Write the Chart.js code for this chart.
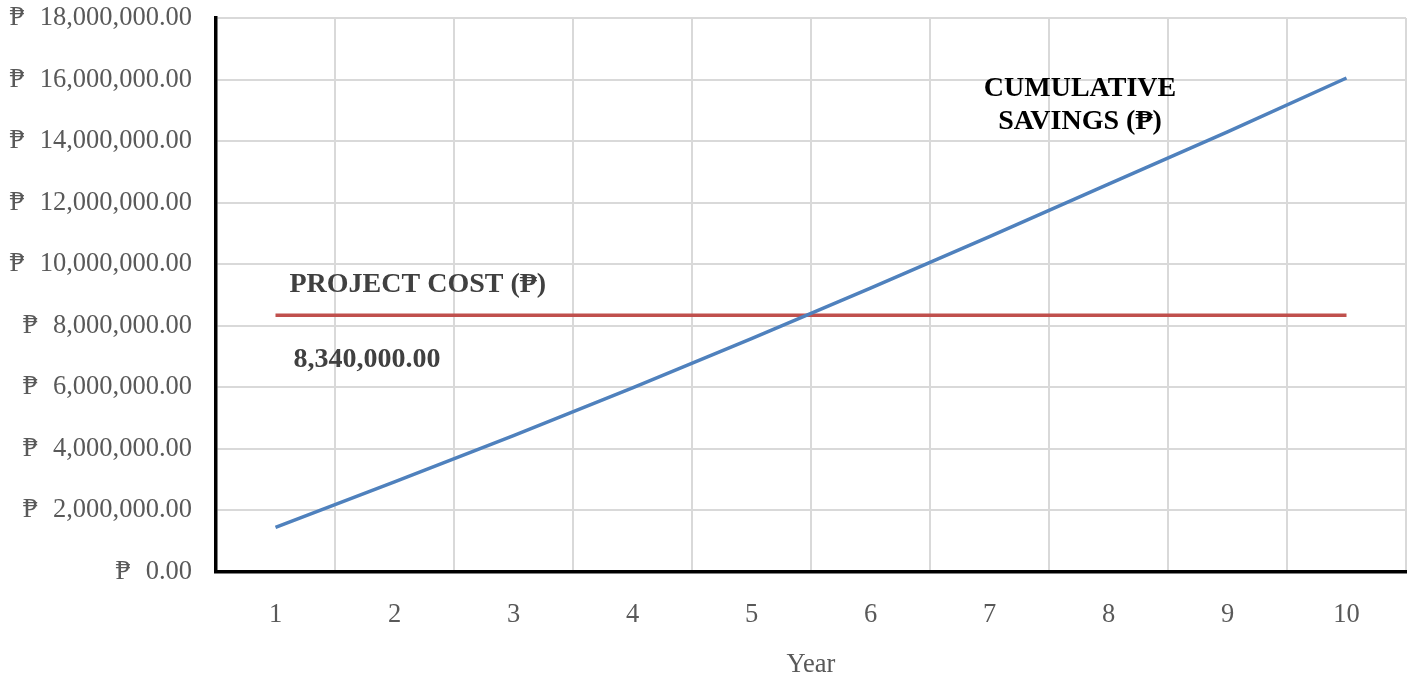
<!DOCTYPE html>
<html>
<head>
<meta charset="utf-8">
<script src="https://cdn.jsdelivr.net/npm/chart.js@4"></script>
<style>
  html, body { margin: 0; padding: 0; background: #fff; }
  #wrap { width: 1415px; height: 679px; position: relative; }
</style>
</head>
<body>
<div id="wrap"><canvas id="c" width="1415" height="679"></canvas></div>
<script>
const years = ['1', '2', '3', '4', '5', '6', '7', '8', '9', '10'];
const cumulativeSavings = [1450000, 2930000, 4430000, 5980000, 7580000, 9220000, 10900000, 12600000, 14300000, 16050000];
const projectCost = [8340000, 8340000, 8340000, 8340000, 8340000, 8340000, 8340000, 8340000, 8340000, 8340000];
const yTicks = [0, 2000000, 4000000, 6000000, 8000000, 10000000, 12000000, 14000000, 16000000, 18000000];
const costLabel = 'PROJECT COST (₱)';
const costValueLabel = '8,340,000.00';
const savingsLabel = ['CUMULATIVE', 'SAVINGS (₱)'];
const xTitle = 'Year';

const SERIF = '"Liberation Serif", "Times New Roman", "DejaVu Serif", serif';

function fmtPeso(v) {
  return '₱\u2002\u200A' + v.toLocaleString('en-US', { minimumFractionDigits: 2, maximumFractionDigits: 2 });
}

const labelPlugin = {
  id: 'labels',
  afterDatasetsDraw(chart) {
    const ctx = chart.ctx;
    const xs = chart.scales.x, ys = chart.scales.y;
    ctx.save();
    ctx.textBaseline = 'middle';
    ctx.font = 'bold 28px ' + SERIF;
    ctx.fillStyle = '#404040';
    ctx.textAlign = 'left';
    const x0 = xs.getPixelForValue(0);
    const yc = ys.getPixelForValue(projectCost[0]);
    ctx.fillText(costLabel, x0 + 14, yc - 31);
    ctx.fillText(costValueLabel, x0 + 18, yc + 44);
    ctx.fillStyle = '#000';
    ctx.textAlign = 'center';
    const xsv = (xs.getPixelForValue(6) + xs.getPixelForValue(7)) / 2 + 31;
    const ysv = ys.getPixelForValue(cumulativeSavings[9]);
    ctx.fillText(savingsLabel[0], xsv, ysv + 11);
    ctx.fillText(savingsLabel[1], xsv, ysv + 44);
    ctx.restore();
  }
};

new Chart(document.getElementById('c'), {
  type: 'line',
  data: {
    labels: years,
    datasets: [
      {
        label: 'Cumulative Savings',
        data: cumulativeSavings,
        borderColor: '#4f81bd',
        borderWidth: 3.5,
        pointRadius: 0,
        tension: 0,
        fill: false
      },
      {
        label: 'Project Cost',
        data: projectCost,
        borderColor: '#c0504d',
        borderWidth: 3.5,
        pointRadius: 0,
        tension: 0,
        fill: false
      }
    ]
  },
  options: {
    responsive: false,
    animation: false,
    devicePixelRatio: 1,
    layout: { padding: { top: 18, right: 9, left: 0, bottom: 0 } },
    plugins: {
      legend: { display: false },
      tooltip: { enabled: false }
    },
    scales: {
      x: {
        type: 'category',
        offset: true,
        grid: { offset: true, color: '#d9d9d9', lineWidth: 2, drawTicks: false },
        border: { color: '#000', width: 3.5 },
        ticks: {
          color: '#595959',
          font: { family: SERIF, size: 26.5 },
          padding: 27,
          maxRotation: 0
        },
        title: {
          display: true,
          text: xTitle,
          color: '#595959',
          font: { family: SERIF, size: 26.5 },
          padding: { top: 4, bottom: -2 }
        },
        afterFit(scale) { scale.height = 107; scale.paddingLeft = 0; scale.paddingRight = 0; }
      },
      y: {
        min: 0,
        max: 18000000,
        afterBuildTicks(scale) { scale.ticks = yTicks.map(v => ({ value: v })); },
        grid: { color: '#d9d9d9', lineWidth: 2, drawTicks: false },
        border: { color: '#000', width: 3.5 },
        ticks: {
          color: '#595959',
          font: { family: SERIF, size: 26.5 },
          padding: 24,
          callback: (v) => fmtPeso(v)
        },
        afterFit(scale) { scale.width = 216; scale.paddingTop = 0; scale.paddingBottom = 0; }
      }
    }
  },
  plugins: [labelPlugin]
});
</script>
</body>
</html>
